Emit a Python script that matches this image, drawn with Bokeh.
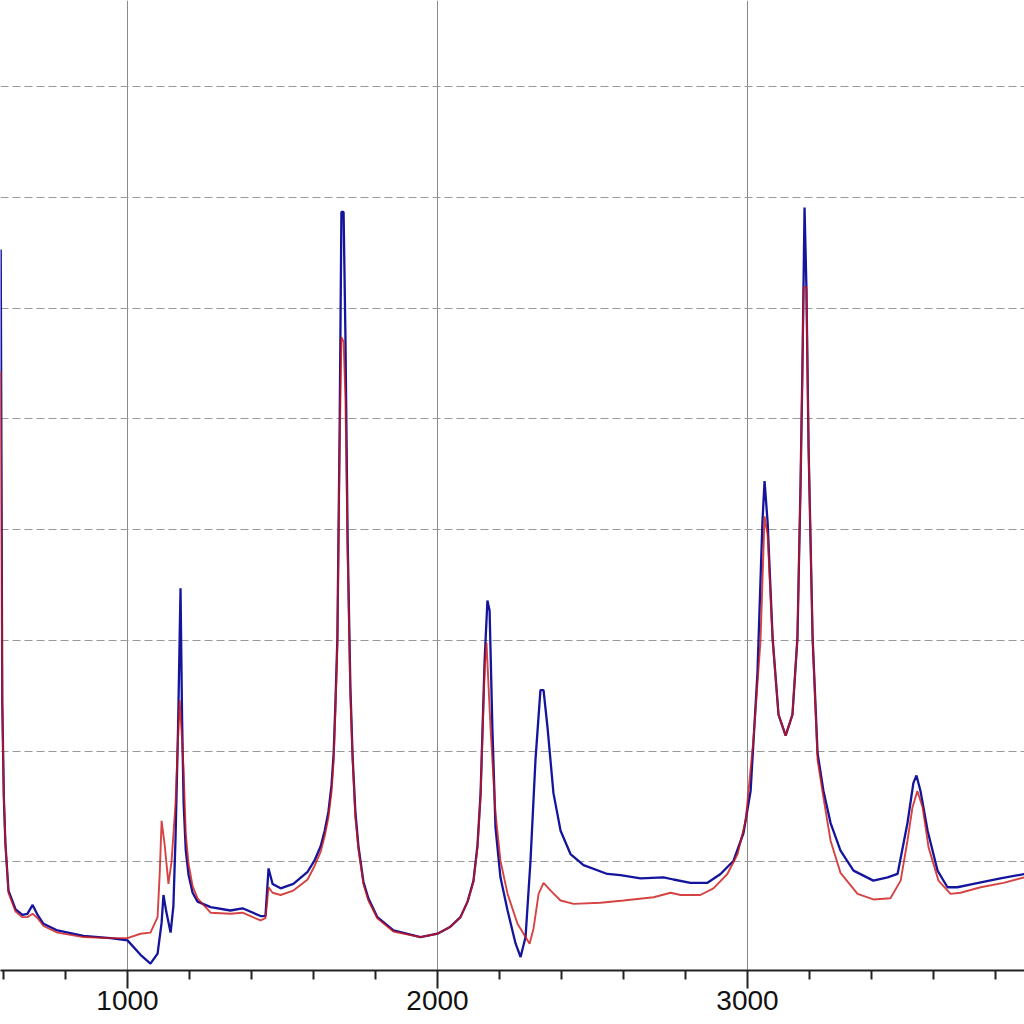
from bokeh.plotting import figure
from bokeh.models import FixedTicker, Range1d
from bokeh.embed import file_html
from bokeh.resources import INLINE

# ---- data ----
blue_x = [591, 596, 601, 606, 616, 639, 661, 677, 694, 710, 729, 774, 858, 945,
          1000, 1042, 1074, 1097, 1110, 1116, 1125, 1139, 1148, 1155, 1163, 1171, 1176, 1181, 1188, 1197, 1210, 1226, 1268,
          1332, 1371, 1429, 1445, 1455, 1468, 1494, 1535, 1581, 1603, 1623, 1636, 1648, 1658, 1665, 1671,
          1677, 1684, 1690, 1697, 1703, 1710, 1719, 1726, 1735, 1745, 1761, 1777, 1806, 1858, 1945,
          2000, 2040, 2074, 2097, 2116, 2129, 2139, 2152, 2161, 2168, 2177, 2187, 2203, 2226, 2252,
          2268, 2284, 2300, 2316, 2332, 2342, 2355, 2374, 2397, 2429, 2471, 2548, 2590,
          2655, 2729, 2761, 2816, 2871, 2913, 2955, 2987, 3010, 3032, 3048, 3055,
          3065, 3081, 3100, 3123, 3145, 3161, 3171, 3177, 3184, 3190, 3197, 3210,
          3226, 3245, 3268, 3300, 3342, 3406, 3452, 3484, 3516, 3535, 3545, 3558,
          3581, 3613, 3645, 3677, 3729, 3816, 3894]
blue_y = [0.653, 0.244, 0.159, 0.117, 0.074, 0.057, 0.052, 0.053, 0.061, 0.052, 0.044, 0.038, 0.033, 0.031,
          0.029, 0.016, 0.008, 0.017, 0.045, 0.070, 0.055, 0.036, 0.060, 0.122, 0.220, 0.347, 0.230, 0.153, 0.110, 0.088, 0.072, 0.064, 0.059,
          0.056, 0.058, 0.051, 0.051, 0.094, 0.080, 0.076, 0.080, 0.091, 0.101, 0.114, 0.128, 0.145, 0.169, 0.198, 0.246,
          0.302, 0.482, 0.687, 0.687, 0.574, 0.392, 0.257, 0.196, 0.145, 0.114, 0.082, 0.067, 0.050, 0.038, 0.032,
          0.035, 0.041, 0.050, 0.064, 0.083, 0.115, 0.162, 0.282, 0.336, 0.327, 0.221, 0.131, 0.086, 0.056, 0.026,
          0.014, 0.032, 0.101, 0.192, 0.255, 0.255, 0.221, 0.162, 0.128, 0.107, 0.097, 0.089, 0.088,
          0.085, 0.086, 0.084, 0.081, 0.081, 0.089, 0.101, 0.126, 0.164, 0.270, 0.406, 0.444,
          0.406, 0.302, 0.233, 0.214, 0.233, 0.302, 0.440, 0.543, 0.691, 0.619, 0.474, 0.302,
          0.198, 0.164, 0.135, 0.110, 0.092, 0.083, 0.086, 0.089, 0.135, 0.171, 0.178, 0.164,
          0.128, 0.092, 0.077, 0.077, 0.080, 0.085, 0.089]

red_x = [591, 596, 601, 606, 616, 639, 661, 677, 694, 710, 729, 774, 858, 945,
         1000, 1042, 1074, 1097, 1104, 1110, 1120, 1132, 1142, 1155, 1162, 1168, 1175, 1181, 1188, 1197, 1210, 1226, 1268,
         1332, 1371, 1429, 1445, 1455, 1468, 1494, 1535, 1581, 1603, 1623, 1636, 1648, 1658, 1665, 1671,
         1677, 1684, 1690, 1697, 1703, 1710, 1719, 1726, 1735, 1745, 1761, 1777, 1806, 1858, 1945,
         2000, 2040, 2074, 2097, 2116, 2129, 2139, 2152, 2158, 2171, 2187, 2203, 2226, 2258, 2284,
         2297, 2310, 2326, 2342, 2365, 2397, 2439, 2526, 2600, 2697, 2752, 2784,
         2848, 2890, 2935, 2968, 2994, 3019, 3042, 3055, 3065, 3081, 3100, 3123,
         3145, 3161, 3171, 3177, 3181, 3190, 3197, 3210, 3226, 3245, 3268, 3300,
         3355, 3406, 3461, 3494, 3516, 3532, 3548, 3565, 3584, 3616, 3655, 3687,
         3752, 3826, 3894]
red_y = [0.543, 0.244, 0.159, 0.117, 0.072, 0.055, 0.050, 0.050, 0.053, 0.049, 0.042, 0.036, 0.032, 0.031,
         0.031, 0.035, 0.036, 0.050, 0.090, 0.137, 0.115, 0.080, 0.100, 0.153, 0.205, 0.246, 0.215, 0.182, 0.125, 0.098, 0.078, 0.067, 0.054,
         0.053, 0.054, 0.047, 0.049, 0.077, 0.072, 0.070, 0.074, 0.084, 0.096, 0.109, 0.123, 0.140, 0.163, 0.192, 0.240,
         0.296, 0.470, 0.574, 0.570, 0.520, 0.380, 0.250, 0.193, 0.140, 0.111, 0.080, 0.065, 0.049, 0.037, 0.032,
         0.035, 0.041, 0.050, 0.064, 0.082, 0.113, 0.160, 0.275, 0.298, 0.221, 0.144, 0.101, 0.071, 0.044, 0.032,
         0.026, 0.040, 0.071, 0.081, 0.074, 0.065, 0.062, 0.063, 0.065, 0.068, 0.072, 0.070,
         0.070, 0.076, 0.089, 0.107, 0.137, 0.210, 0.300, 0.412, 0.395, 0.300, 0.233, 0.214,
         0.233, 0.302, 0.440, 0.543, 0.619, 0.619, 0.474, 0.302, 0.192, 0.158, 0.119, 0.090,
         0.071, 0.066, 0.067, 0.083, 0.119, 0.149, 0.164, 0.149, 0.113, 0.083, 0.071, 0.072,
         0.077, 0.081, 0.086]

x_major_ticks = [1000, 2000, 3000, 4000]
x_minor_ticks = [600, 800, 1200, 1400, 1600, 1800, 2200, 2400, 2600, 2800,
                 3200, 3400, 3600, 3800]
y_grid_ticks = [0.1, 0.2, 0.3, 0.4, 0.5, 0.6, 0.7, 0.8]

p = figure(frame_width=1024, frame_height=970,
           x_range=Range1d(590.3, 3893.5), y_range=Range1d(0.0018, 0.878),
           output_backend="svg", toolbar_location=None,
           min_border_left=0, min_border_right=0, min_border_top=0,
           min_border_bottom=54)
p.outline_line_color = None
p.background_fill_color = "white"
p.border_fill_color = "white"

p.yaxis.visible = False
ax = p.xaxis[0]
ax.ticker = FixedTicker(ticks=x_major_ticks, minor_ticks=x_minor_ticks)
ax.major_label_text_font = "Liberation Sans"
ax.major_label_text_font_size = "28px"
ax.major_label_text_color = "#111111"
ax.major_label_standoff = 2
ax.major_tick_out = 18
ax.major_tick_in = 0
ax.minor_tick_out = 9
ax.minor_tick_in = 0
ax.axis_line_width = 2
ax.axis_line_color = "#222222"
ax.major_tick_line_width = 2
ax.major_tick_line_color = "#222222"
ax.minor_tick_line_width = 2
ax.minor_tick_line_color = "#222222"

p.xgrid.ticker = FixedTicker(ticks=[1000, 2000, 3000, 4000])
p.xgrid.grid_line_color = "#8a8a8a"
p.xgrid.grid_line_width = 1
p.ygrid.ticker = FixedTicker(ticks=y_grid_ticks)
p.ygrid.grid_line_color = "#9a9a9a"
p.ygrid.grid_line_width = 1
p.ygrid.grid_line_dash = "8 4"

p.line(blue_x, blue_y, line_color="#14149c", line_width=2.3)
p.line(red_x, red_y, line_color="#cc1414", line_width=1.9, line_alpha=0.8)

open("out.html", "w").write(file_html(p, INLINE))
